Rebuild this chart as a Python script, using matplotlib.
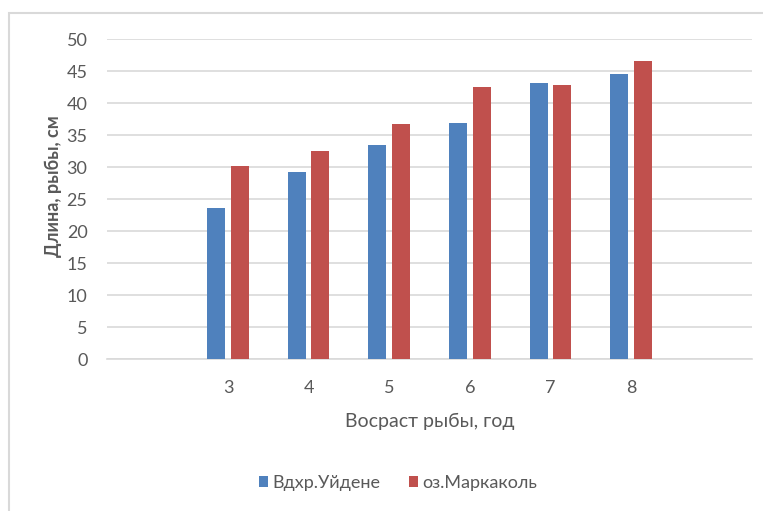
import matplotlib
matplotlib.use('Agg')
import matplotlib.pyplot as plt
from matplotlib.patches import Rectangle
import numpy as np

# данные
ages = ['3', '4', '5', '6', '7', '8']
uydene = [23.6, 29.2, 33.4, 36.9, 43.2, 44.6]
markakol = [30.1, 32.5, 36.7, 42.5, 42.8, 46.5]
series_names = ['Вдхр.Уйдене', 'оз.Маркаколь']

plt.rcParams['font.family'] = ['Lato', 'DejaVu Sans']
text_color = '#595959'
grid_color = '#D9D9D9'

fig = plt.figure(figsize=(7.63, 5.11), dpi=100)
ax = fig.add_axes([107 / 763, 1 - 359 / 511, (752 - 107) / 763, (359 - 39) / 511])

# рамка диаграммы
fig.patches.append(Rectangle((9 / 763, -0.05), 1.2, 1 - 13 / 511 + 0.05,
                             transform=fig.transFigure, fill=False,
                             edgecolor=grid_color, linewidth=1.5))

x = np.arange(len(ages))
w = 0.225
ax.bar(x - 0.147, uydene, width=w, color='#4F81BD', label=series_names[0], zorder=3)
ax.bar(x + 0.147, markakol, width=w, color='#C0504D', label=series_names[1], zorder=3)

ax.set_xlim(-1.5, len(ages) + 0.5)
ax.set_ylim(0, 50)
ax.set_yticks(range(0, 51, 5))
ax.set_xticks(x)
ax.set_xticklabels(ages)

ax.grid(axis='y', color=grid_color, linewidth=1.2, zorder=0)
for s in ['top', 'right', 'left']:
    ax.spines[s].set_visible(False)
ax.spines['bottom'].set_color(grid_color)
ax.spines['bottom'].set_linewidth(1.2)
ax.tick_params(length=0, colors=text_color, labelsize=13)
ax.tick_params(axis='y', pad=14)
ax.tick_params(axis='x', pad=15)

ax.set_xlabel('Восраст рыбы, год', fontsize=14, color=text_color, labelpad=12)
ax.set_ylabel('Длина, рыбы, см', fontsize=13, color=text_color, fontweight='bold')
ax.yaxis.set_label_coords(-0.07, 0.54)

fig.legend(loc='center', bbox_to_anchor=(398 / 763, 1 - 483 / 511), ncol=2,
           frameon=False, fontsize=13, labelcolor=text_color,
           handlelength=0.5, handleheight=0.5, handletextpad=0.25, columnspacing=1.6)

fig.savefig('out.png', dpi=100)
